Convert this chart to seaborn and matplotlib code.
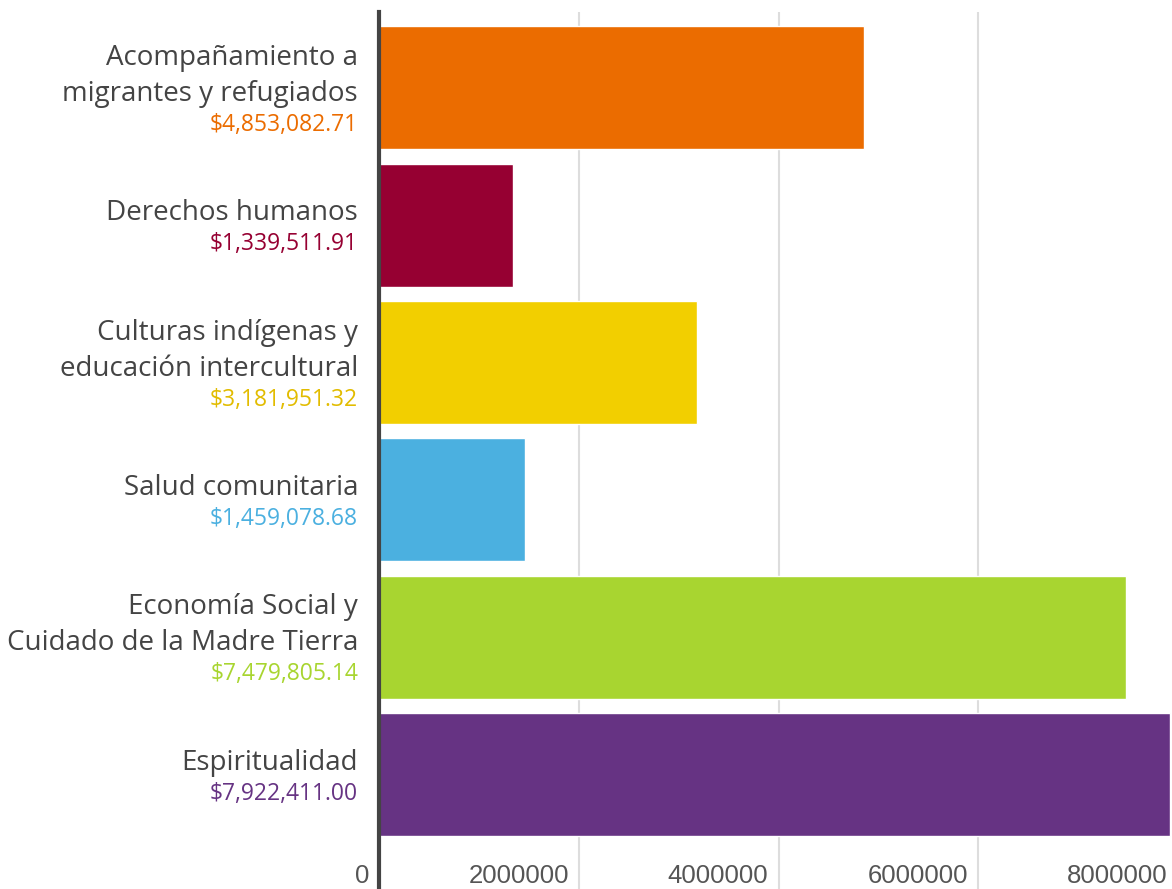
import pandas as pd
import matplotlib.pyplot as plt
import matplotlib.transforms as mtransforms
import seaborn as sns

# Datos
categorias = ['Acompañamiento a\nmigrantes y refugiados',
              'Derechos humanos',
              'Culturas indígenas y\neducación intercultural',
              'Salud comunitaria',
              'Economía Social y\nCuidado de la Madre Tierra',
              'Espiritualidad']
montos = [4853082.71, 1339511.91, 3181951.32, 1459078.68, 7479805.14, 7922411.00]
etiquetas_monto = ['$4,853,082.71', '$1,339,511.91', '$3,181,951.32',
                   '$1,459,078.68', '$7,479,805.14', '$7,922,411.00']
colores = ['#EB6C00', '#960032', '#F2CF00', '#4BB0E0', '#A8D530', '#663383']
colores_texto = ['#EB6C00', '#960032', '#E2BC00', '#4BB0E0', '#A8D530', '#663383']
ticks_x = [0, 2000000, 4000000, 6000000, 8000000]

df = pd.DataFrame({'categoria': categorias, 'monto': montos})

sns.set_style('white')
plt.rcParams['font.family'] = ['Open Sans', 'DejaVu Sans']

fig = plt.figure(figsize=(11.72, 8.89), dpi=100)
ax = fig.add_axes([379 / 1172, 0, (1178 - 379) / 1172, 1 - 12 / 889])

sns.barplot(data=df, x='monto', y='categoria', hue='categoria', palette=colores,
            orient='h', width=0.895, legend=False, saturation=1, ax=ax)

ax.set_xlim(0, 8000000)
ax.set_ylim(5.83, -0.55)
ax.set_xlabel('')
ax.set_ylabel('')
ax.set_yticks([])

# rejilla vertical
ax.set_xticks(ticks_x)
ax.set_xticklabels([str(t) for t in ticks_x])
ax.grid(axis='x', color='#dddddd', linewidth=1.5)
ax.set_axisbelow(True)
for s in ['top', 'right', 'bottom']:
    ax.spines[s].set_visible(False)
ax.spines['left'].set_color('#444444')
ax.spines['left'].set_linewidth(3)

ax.tick_params(axis='x', length=0, pad=-4.3, labelsize=18.5, labelcolor='#555555',
               labelfontfamily='Liberation Sans')
desplazamiento = mtransforms.ScaledTranslation(-10 / 100, 0, fig.dpi_scale_trans)
for lbl in ax.get_xticklabels():
    lbl.set_horizontalalignment('right')
    lbl.set_verticalalignment('baseline')
    lbl.set_transform(lbl.get_transform() + desplazamiento)

# etiquetas de categorias con monto
trans = mtransforms.blended_transform_factory(fig.transFigure, ax.transData)
x_txt = 358 / 1172
for i, (cat, monto_txt, col) in enumerate(zip(categorias, etiquetas_monto, colores_texto)):
    lineas = cat.split('\n')
    k = len(lineas)
    base = -5 - 18 * (k - 1)
    for j, linea in enumerate(lineas):
        ax.annotate(linea, xy=(x_txt, i), xycoords=trans,
                    xytext=(0, -(base + 36 * j)), textcoords='offset pixels',
                    ha='right', va='baseline', fontsize=20, color='#444444',
                    annotation_clip=False)
    ax.annotate(monto_txt, xy=(x_txt, i), xycoords=trans,
                xytext=(0, -(base + 36 * (k - 1) + 30)), textcoords='offset pixels',
                ha='right', va='baseline', fontsize=16.5, color=col,
                annotation_clip=False)

fig.savefig('out.png', dpi=100)
